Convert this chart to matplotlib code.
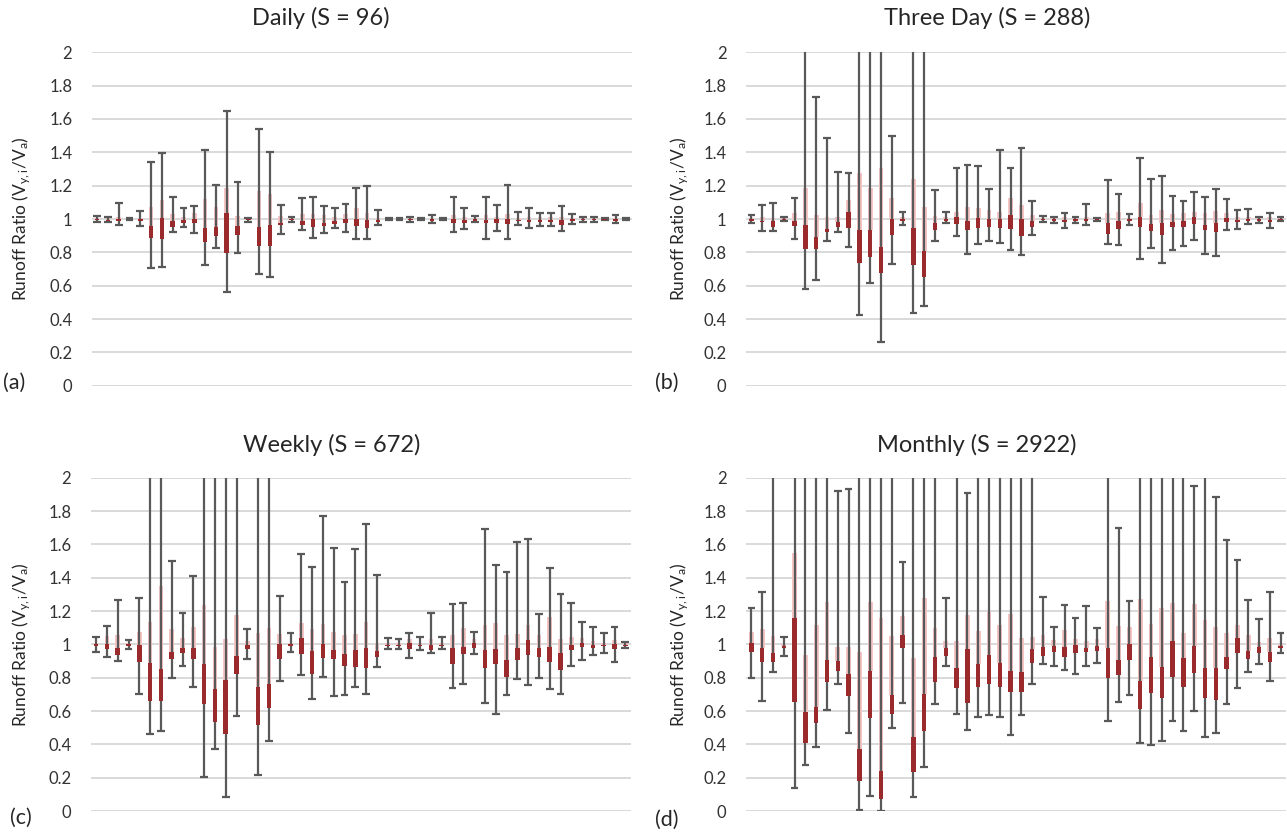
import matplotlib
matplotlib.use("Agg")
import matplotlib.pyplot as plt
import numpy as np

plt.rcParams['font.family'] = ['Lato', 'DejaVu Sans']
plt.rcParams['mathtext.default'] = 'regular'

titles = ["Daily (S = 96)", "Three Day (S = 288)", "Weekly (S = 672)", "Monthly (S = 2922)"]
letters = ["(a)", "(b)", "(c)", "(d)"]
yticks = [0, 0.2, 0.4, 0.6, 0.8, 1, 1.2, 1.4, 1.6, 1.8, 2]
ytick_labels = ["0", "0.2", "0.4", "0.6", "0.8", "1", "1.2", "1.4", "1.6", "1.8", "2"]

# ---- Panel (a) Daily ----
a_min = [0.985,0.98,0.964,0.995,0.958,0.704,0.712,0.924,0.95,0.918,0.724,0.828,0.56,0.798,0.982,0.67,0.654,0.908,0.984,0.934,0.888,0.918,0.944,0.924,0.88,
         0.878,0.962,0.996,0.996,0.984,0.996,0.978,0.996,0.92,0.942,0.98,0.878,0.93,0.882,0.962,0.948,0.958,0.958,0.93,0.972,0.984,0.984,0.994,0.978,0.996]
a_q1 = [0.995,0.99,0.99,0.998,0.99,0.884,0.88,0.954,0.978,0.974,0.86,0.9,0.794,0.904,0.992,0.84,0.84,0.964,0.992,0.966,0.952,0.96,0.972,0.976,0.956,
        0.944,0.984,0.998,0.998,0.992,0.998,0.99,0.998,0.974,0.978,0.99,0.974,0.974,0.97,0.986,0.98,0.984,0.984,0.964,0.988,0.992,0.992,0.997,0.99,0.998]
a_med = [1.0,0.995,1.0,1.0,0.998,0.96,1.004,0.99,0.994,0.998,0.948,0.95,1.038,0.96,0.998,0.95,0.962,0.978,0.998,0.99,0.998,0.976,0.988,0.998,0.998,
         0.994,0.994,1.0,1.0,0.998,1.0,0.998,1.0,0.998,0.994,0.998,0.994,0.998,0.998,0.996,0.996,0.996,0.996,0.994,0.998,0.998,0.998,1.0,0.998,1.0]
a_q3 = [1.005,1.005,1.014,1.002,1.006,1.07,1.114,1.03,1.014,1.034,1.118,1.074,1.188,1.02,1.003,1.168,1.148,1.018,1.006,1.028,1.032,1.026,1.014,1.032,1.066,
        1.038,1.004,1.002,1.002,1.006,1.002,1.008,1.002,1.024,1.01,1.006,1.024,1.014,1.028,1.008,1.012,1.01,1.01,1.014,1.008,1.006,1.006,1.003,1.008,1.002]
a_max = [1.015,1.01,1.098,1.005,1.046,1.344,1.394,1.134,1.066,1.08,1.412,1.202,1.65,1.224,1.008,1.538,1.402,1.084,1.014,1.124,1.132,1.076,1.068,1.092,1.184,
         1.198,1.056,1.004,1.004,1.014,1.004,1.024,1.004,1.13,1.064,1.016,1.134,1.084,1.204,1.044,1.066,1.038,1.038,1.08,1.03,1.014,1.014,1.006,1.024,1.004]

# ---- Panel (b) Three Day ----
b_min = [0.978,0.926,0.926,0.988,0.878,0.578,0.634,0.87,0.92,0.834,0.424,0.614,0.26,0.73,0.964,0.438,0.478,0.866,0.974,0.898,0.79,0.848,0.866,0.858,0.814,
         0.782,0.902,0.982,0.978,0.948,0.974,0.964,0.988,0.848,0.844,0.966,0.758,0.824,0.738,0.814,0.838,0.874,0.79,0.778,0.936,0.938,0.968,0.978,0.944,0.988]
b_q1 = [0.99,0.982,0.954,0.995,0.958,0.818,0.82,0.92,0.955,0.944,0.734,0.774,0.674,0.904,0.99,0.722,0.654,0.934,0.99,0.968,0.934,0.944,0.954,0.948,0.938,
        0.898,0.954,0.992,0.99,0.985,0.99,0.99,0.995,0.91,0.942,0.99,0.954,0.926,0.904,0.954,0.954,0.968,0.934,0.92,0.984,0.984,0.99,0.99,0.98,0.995]
b_med = [0.998,0.99,0.988,1.0,0.99,0.964,0.894,0.94,0.985,1.044,0.934,0.934,0.834,0.998,1.0,0.944,0.808,0.978,1.0,1.01,0.99,1.004,0.998,0.998,1.024,
         0.998,0.99,1.0,0.998,0.995,0.998,0.998,1.0,0.978,0.988,0.998,1.014,0.97,0.974,0.984,0.99,1.014,0.964,0.974,1.004,0.996,0.998,0.998,0.994,1.0]
b_q3 = [1.006,1.01,1.004,1.004,1.034,1.184,1.024,1.014,1.01,1.114,1.274,1.184,1.304,1.124,1.01,1.24,1.074,1.02,1.01,1.044,1.074,1.068,1.054,1.044,1.124,
        1.084,1.024,1.006,1.004,1.01,1.004,1.01,1.004,1.038,1.044,1.008,1.094,1.024,1.054,1.03,1.034,1.044,1.038,1.048,1.038,1.01,1.01,1.004,1.01,1.004]
b_max = [1.024,1.082,1.094,1.01,1.124,2.6,1.734,1.488,1.28,1.274,2.6,2.6,2.6,1.498,1.04,2.6,2.6,1.174,1.044,1.308,1.324,1.318,1.182,1.414,1.308,
         1.424,1.108,1.018,1.01,1.034,1.014,1.09,1.008,1.234,1.148,1.028,1.368,1.238,1.256,1.138,1.11,1.16,1.13,1.18,1.122,1.054,1.06,1.014,1.038,1.01]

# ---- Panel (c) Weekly ----
c_min = [0.954,0.922,0.9,0.974,0.702,0.462,0.482,0.796,0.872,0.742,0.202,0.37,0.082,0.57,0.912,0.216,0.42,0.782,0.956,0.816,0.672,0.802,0.692,0.696,0.746,
         0.702,0.866,0.974,0.974,0.916,0.966,0.946,0.974,0.74,0.762,0.944,0.65,0.582,0.696,0.79,0.756,0.796,0.73,0.702,0.872,0.906,0.936,0.946,0.896,0.976]
c_q1 = [0.99,0.972,0.936,0.99,0.896,0.662,0.662,0.91,0.95,0.91,0.642,0.536,0.462,0.82,0.972,0.516,0.616,0.91,0.99,0.942,0.82,0.916,0.91,0.87,0.866,
        0.856,0.926,0.99,0.99,0.972,0.99,0.966,0.99,0.88,0.94,0.976,0.856,0.882,0.806,0.906,0.936,0.926,0.896,0.846,0.966,0.982,0.976,0.99,0.972,0.99]
c_med = [1.0,1.0,0.976,1.0,0.996,0.89,0.85,0.956,0.98,0.976,0.882,0.73,0.786,0.93,0.996,0.746,0.762,1.0,1.0,1.036,0.962,1.002,0.966,0.942,0.966,
         0.976,0.96,0.998,0.998,1.006,0.998,0.996,0.998,0.976,0.986,1.006,0.966,0.97,0.906,0.976,1.026,0.976,0.982,0.946,0.996,1.01,0.996,0.998,1.0,0.998]
c_q3 = [1.01,1.05,1.056,1.008,1.076,1.136,1.35,1.09,1.036,1.106,1.236,0.986,1.03,1.176,1.022,1.07,1.096,1.06,1.01,1.126,1.09,1.122,1.076,1.056,1.062,
        1.132,1.006,1.006,1.006,1.03,1.008,1.034,1.006,1.056,1.096,1.03,1.116,1.126,1.056,1.062,1.116,1.056,1.162,1.03,1.046,1.036,1.02,1.006,1.026,1.006]
c_max = [1.042,1.11,1.266,1.026,1.28,2.6,2.6,1.5,1.188,1.412,2.6,2.6,2.6,2.6,1.094,2.6,2.6,1.292,1.07,1.54,1.466,1.772,1.576,1.376,1.57,
         1.72,1.416,1.036,1.032,1.066,1.046,1.188,1.042,1.24,1.25,1.076,1.69,1.478,1.436,1.616,1.63,1.18,1.46,1.3,1.246,1.132,1.106,1.07,1.102,1.016]

# ---- Panel (d) Monthly ----
d_min = [0.796,0.662,0.836,0.932,0.136,0.276,0.382,0.606,0.762,0.47,0.006,0.092,0.0,0.496,0.646,0.082,0.266,0.64,0.872,0.584,0.486,0.562,0.576,0.566,0.456,
         0.576,0.76,0.88,0.868,0.846,0.824,0.872,0.886,0.54,0.652,0.696,0.41,0.396,0.422,0.542,0.48,0.602,0.442,0.47,0.64,0.736,0.832,0.882,0.778,0.946]
d_q1 = [0.956,0.896,0.896,0.98,0.652,0.406,0.526,0.772,0.842,0.69,0.182,0.56,0.072,0.584,0.98,0.236,0.482,0.776,0.932,0.74,0.646,0.742,0.76,0.742,0.712,
        0.716,0.89,0.932,0.954,0.924,0.946,0.952,0.962,0.8,0.816,0.906,0.612,0.706,0.68,0.802,0.746,0.826,0.68,0.664,0.854,0.95,0.912,0.95,0.896,0.98]
d_med = [1.006,0.98,0.946,0.99,1.156,0.592,0.622,0.906,0.9,0.82,0.372,0.84,0.24,0.696,1.056,0.442,0.704,0.924,0.98,0.856,0.972,0.88,0.934,0.886,0.84,
         0.836,0.972,0.982,0.99,0.986,0.996,0.98,0.99,0.976,0.906,1.0,0.78,0.926,0.862,1.02,0.92,0.99,0.856,0.856,0.924,1.036,0.962,0.982,0.956,0.992]
d_q3 = [1.072,1.092,1.05,1.0,1.546,0.936,1.116,1.256,0.982,0.986,0.952,1.252,1.16,1.05,1.172,0.92,1.28,1.1,1.02,1.02,1.176,1.08,1.196,1.116,1.18,
        1.036,1.042,1.056,1.026,1.086,1.032,1.022,1.032,1.26,1.11,1.106,1.27,1.12,1.22,1.25,1.066,1.24,1.146,1.102,1.066,1.116,1.056,1.012,1.036,1.0]
d_max = [1.216,1.316,2.6,1.046,2.6,2.6,2.6,2.6,1.922,1.932,2.6,2.6,2.6,2.6,1.494,2.6,2.6,2.6,1.28,2.6,1.908,2.6,2.6,2.6,2.6,
         2.6,2.6,1.286,1.102,1.236,1.156,1.23,1.096,2.6,1.696,1.262,2.6,2.6,2.6,2.6,2.6,1.948,2.6,1.882,1.626,1.508,1.264,1.154,1.314,1.066]

panels = [
    (a_min, a_q1, a_med, a_q3, a_max),
    (b_min, b_q1, b_med, b_q3, b_max),
    (c_min, c_q1, c_med, c_q3, c_max),
    (d_min, d_q1, d_med, d_q3, d_max),
]

W, H = 1287, 834
fig = plt.figure(figsize=(W / 100, H / 100), dpi=100)

# axes rectangles in pixels: (left, top, right, bottom)
rects = [(91.7, 52.3, 631.7, 385.7), (746, 52.3, 1286, 385.7),
         (90.7, 477.7, 630.7, 811), (746, 477.7, 1286, 811)]
title_pos = [(321, 18), (987, 18), (332, 445), (977, 445)]
letter_pos = [(3, 383), (655, 383), (10, 818), (655, 820)]
ylabel_x = [22, 680, 22, 680]

whisk_c = '#595959'
red_c = '#9b2a2c'
pink_c = '#f5c4c4'

for k, (mn, q1, md, q3, mx) in enumerate(panels):
    l, t, r, b = rects[k]
    ax = fig.add_axes([l / W, 1 - b / H, (r - l) / W, (b - t) / H])
    mn, q1, md, q3, mx = map(np.asarray, (mn, q1, md, q3, mx))
    x = np.arange(len(mn))
    ax.set_xlim(-0.5, len(mn) - 0.5)
    ax.set_ylim(0, 2)
    ax.set_yticks(yticks)
    ax.set_yticklabels(ytick_labels)
    ax.tick_params(axis='y', length=0, pad=14, labelsize=12, labelcolor='#333333')
    ax.set_xticks([])
    for s in ax.spines.values():
        s.set_visible(False)
    ax.grid(axis='y', color='#d9d9d9', lw=1.4, zorder=0)
    ax.set_axisbelow(True)

    ax.bar(x, q3 - md, bottom=md, width=0.44, color=pink_c, zorder=1.5, linewidth=0)
    ax.vlines(x, mn, mx, color=whisk_c, lw=1.6, zorder=2)
    ax.hlines(mn, x - 0.36, x + 0.36, color=whisk_c, lw=1.6, zorder=2)
    ax.hlines(mx, x - 0.36, x + 0.36, color=whisk_c, lw=1.6, zorder=2)
    ax.bar(x, md - q1, bottom=q1, width=0.42, color=red_c, zorder=4, linewidth=0)

    fig.text(title_pos[k][0] / W, 1 - title_pos[k][1] / H, titles[k], ha='center', va='center',
             fontsize=17, color='#262626')
    fig.text(letter_pos[k][0] / W, 1 - letter_pos[k][1] / H, letters[k], ha='left', va='center',
             fontsize=15.5, color='#262626')
    fig.text(ylabel_x[k] / W, 1 - ((t + b) / 2) / H, 'Runoff Ratio (V$_{y,i}$/V$_{a}$)', rotation=90,
             ha='center', va='center', fontsize=12.5, color='#262626')

fig.savefig('out.png', dpi=100)
